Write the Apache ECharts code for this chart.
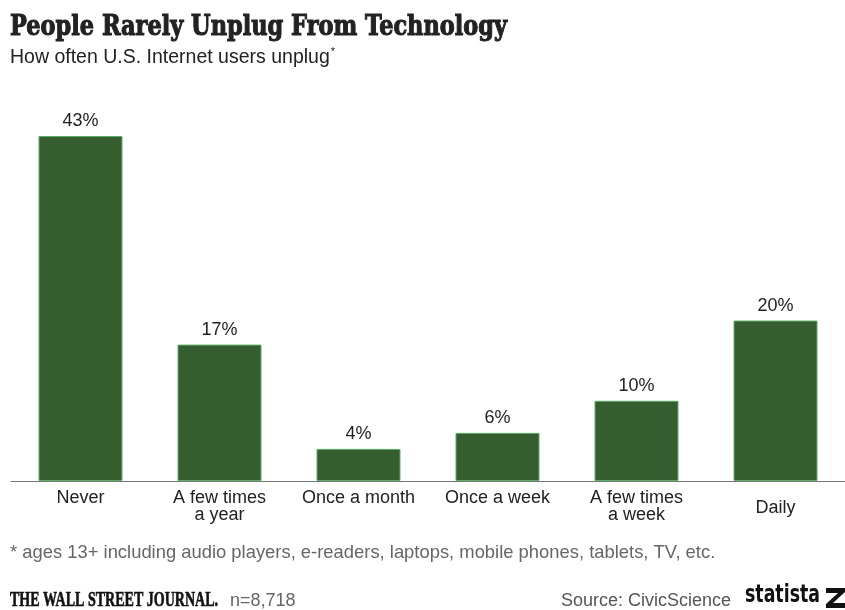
<!DOCTYPE html>
<html><head><meta charset="utf-8">
<script src="https://cdn.jsdelivr.net/npm/echarts@6/dist/echarts.min.js"></script>
<style>html,body{margin:0;padding:0;background:#fff}#c{width:845px;height:610px}</style>
</head><body><div id="c"></div>
<script>
const categories = ["Never", "A few times\na year", "Once a month", "Once a week", "A few times\na week", "Daily"];
const values = [43, 17, 4, 6, 10, 20];
const titleText = "People Rarely Unplug From Technology";
const subtitleText = "How often U.S. Internet users unplug";
const footnoteText = "* ages 13+ including audio players, e-readers, laptops, mobile phones, tablets, TV, etc.";
const sampleText = "n=8,718";
const sourceText = "Source: CivicScience";

const ctx = document.createElement('canvas').getContext('2d');
function measure(text, font) { ctx.font = font; return ctx.measureText(text).width; }
function fitScale(text, font, w) { return w / measure(text, font); }

const titleFont = 'bold 27px "DejaVu Serif", serif';
const subFont = '19.5px "Liberation Sans", Arial';
const wsjFont = 'bold 20px "Liberation Serif", "DejaVu Serif", serif';
const statFont = 'bold 24px "DejaVu Sans Condensed", "DejaVu Sans", sans-serif';
const subW = measure(subtitleText, subFont);

const catData = categories.map(c => c === 'Daily' ? {value: c, textStyle: {padding: [10, 0, 0, 0]}} : c);

const chart = echarts.init(document.getElementById('c'));
chart.setOption({
  backgroundColor: '#fff',
  animation: false,
  grid: {left: 11, right: 0, top: 136, bottom: 129},
  xAxis: {
    type: 'category', data: catData,
    axisLine: {lineStyle: {color: '#777', width: 1}},
    axisTick: {show: false},
    axisLabel: {color: '#222', fontSize: 18, fontFamily: 'Liberation Sans, Arial', lineHeight: 17, margin: 9, interval: 0}
  },
  yAxis: {type: 'value', min: 0, max: 43, show: false, splitLine: {show: false}},
  series: [{
    type: 'bar', data: values, barWidth: 84,
    itemStyle: {color: '#355d30', borderColor: '#5fae68', borderWidth: 1},
    label: {show: true, position: 'top', distance: 6, formatter: '{c}%', color: '#222', fontSize: 18, fontFamily: 'Liberation Sans, Arial'}
  }],
  graphic: [
    {type: 'text', x: 10, y: 14, scaleX: fitScale(titleText, titleFont, 497), style: {text: titleText, font: titleFont, fill: '#222', stroke: '#222', lineWidth: 1.1}},
    {type: 'text', x: 10, y: 48, style: {text: subtitleText, font: subFont, fill: '#222'}},
    {type: 'text', x: 11 + subW, y: 46, style: {text: '*', font: '11px "Liberation Sans", Arial', fill: '#222'}},
    {type: 'text', x: 10, y: 544, style: {text: footnoteText, font: '18.4px "Liberation Sans", Arial', fill: '#666'}},
    {type: 'text', x: 10, y: 591, scaleX: fitScale('THE WALL STREET JOURNAL.', wsjFont, 208), style: {text: 'THE WALL STREET JOURNAL.', font: wsjFont, fill: '#111', stroke: '#111', lineWidth: 0.6}},
    {type: 'text', x: 230, y: 592, style: {text: sampleText, font: '18px "Liberation Sans", Arial', fill: '#666'}},
    {type: 'text', x: 561, y: 592, style: {text: sourceText, font: '18px "Liberation Sans", Arial', fill: '#555'}},
    {type: 'text', x: 745, y: 584, scaleX: fitScale('statista', statFont, 75), style: {text: 'statista', font: statFont, fill: '#111'}},
    {type: 'polygon', shape: {points: [[826,588],[845,588],[845,592],[833,603],[845,603],[845,608],[826,608],[826,604],[838,593],[826,593]]}, style: {fill: '#111'}}
  ]
});
</script></body></html>
